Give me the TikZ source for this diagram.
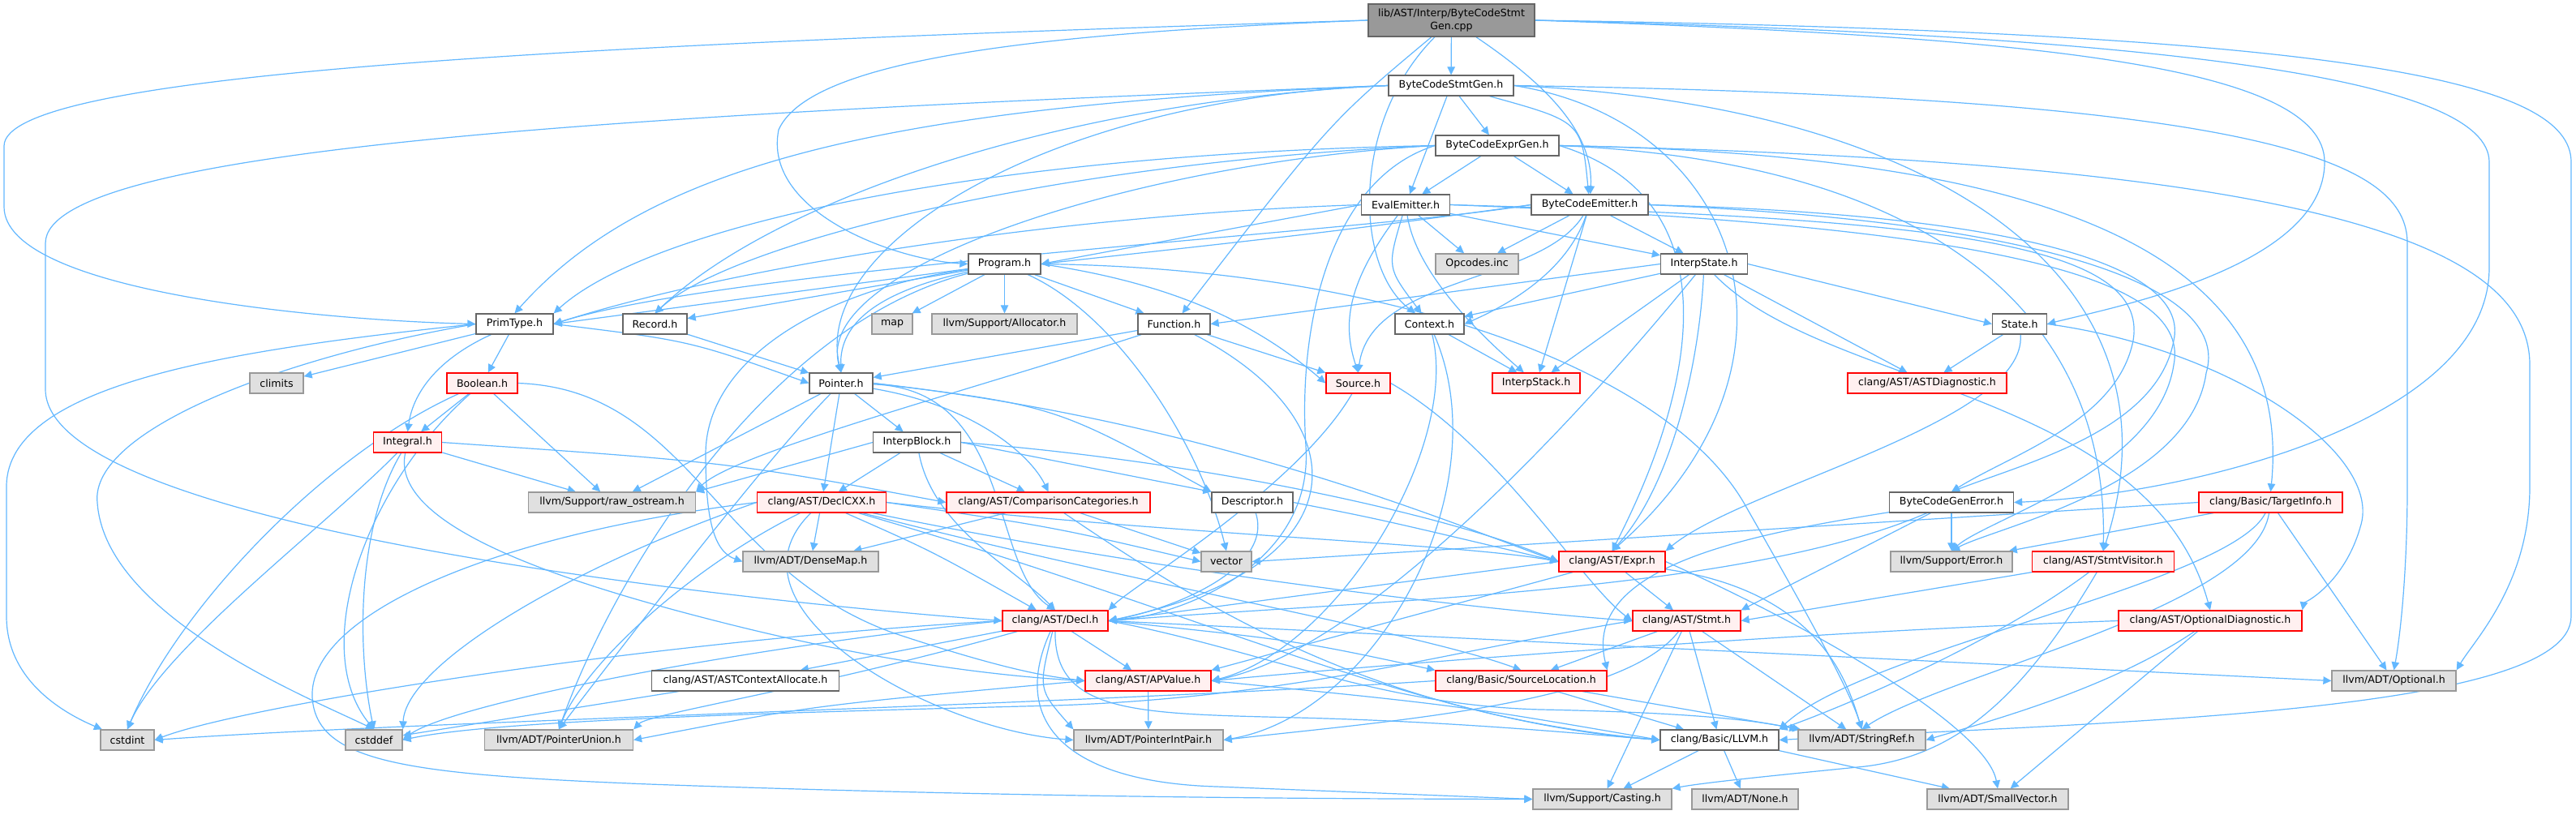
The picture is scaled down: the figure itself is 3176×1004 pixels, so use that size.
\documentclass[tikz,border=0pt]{standalone}
\usepackage{fontspec}
\setmainfont{DejaVu Sans}
\usetikzlibrary{arrows.meta}
\definecolor{ec}{HTML}{63B8FF}
\definecolor{bd}{HTML}{666666}
\definecolor{rootfill}{HTML}{999999}
\definecolor{rfill}{HTML}{FFF0F0}
\definecolor{rbd}{HTML}{FF0000}
\definecolor{gfill}{HTML}{E0E0E0}
\definecolor{gbd}{HTML}{999999}
\pgfdeclarelayer{bg}
\pgfsetlayers{bg,main}
\tikzset{
  box/.style={draw=bd, fill=white, line width=1.3pt, minimum height=25pt, inner sep=0pt, text=black},
  wbox/.style={box},
  rootbox/.style={box, fill=rootfill},
  rbox/.style={box, draw=rbd, fill=rfill},
  gbox/.style={box, draw=gbd, fill=gfill},
  e/.style={draw=ec, line width=1.2pt, -{Triangle[length=10pt,width=9.5pt]}},
}
\begin{document}
\begin{tikzpicture}[x=1pt, y=-1pt, font=\fontsize{12.6pt}{15.5pt}\selectfont]
\useasboundingbox (0,0) rectangle (3176,1004);
\node[rootbox, minimum width=205pt, minimum height=40pt, align=center] (root) at (1789.5,25) {lib/AST/Interp/ByteCodeStmt\\Gen.cpp};
\node[wbox, minimum width=154pt] (BCSG) at (1789,105.5) {ByteCodeStmtGen.h};
\node[wbox, minimum width=152pt] (BCEG) at (1846,179.5) {ByteCodeExprGen.h};
\node[wbox, minimum width=109pt] (EE) at (1733,252.5) {EvalEmitter.h};
\node[wbox, minimum width=144pt] (BCE) at (1960,252.5) {ByteCodeEmitter.h};
\node[wbox, minimum width=89pt] (Program) at (1238.5,325.5) {Program.h};
\node[gbox, minimum width=102pt] (Opcodes) at (1821,325.5) {Opcodes.inc};
\node[wbox, minimum width=107pt] (IS) at (2101,325.5) {InterpState.h};
\node[wbox, minimum width=95pt] (PrimType) at (634.5,399.5) {PrimType.h};
\node[wbox, minimum width=79pt] (Record) at (807.5,399.5) {Record.h};
\node[gbox, minimum width=50pt] (map) at (1100,399.5) {map};
\node[gbox, minimum width=179pt] (Allocator) at (1238.5,399.5) {llvm/Support/Allocator.h};
\node[wbox, minimum width=89pt] (Function) at (1447.5,399.5) {Function.h};
\node[wbox, minimum width=85pt] (Context) at (1762.5,399.5) {Context.h};
\node[wbox, minimum width=67pt] (State) at (2490,399.5) {State.h};
\node[gbox, minimum width=66pt] (climits) at (341,472.5) {climits};
\node[rbox, minimum width=87pt] (Boolean) at (594.5,472.5) {Boolean.h};
\node[wbox, minimum width=78pt] (Pointer) at (1037,472.5) {Pointer.h};
\node[rbox, minimum width=79pt] (Source) at (1674.5,472.5) {Source.h};
\node[rbox, minimum width=108pt] (InterpStack) at (1894,472.5) {InterpStack.h};
\node[rbox, minimum width=196pt] (ASTDiag) at (2376,472.5) {clang/AST/ASTDiagnostic.h};
\node[rbox, minimum width=84pt] (Integral) at (502.5,545.5) {Integral.h};
\node[wbox, minimum width=108pt] (InterpBlock) at (1130.5,545.5) {InterpBlock.h};
\node[gbox, minimum width=206pt] (rawostream) at (754.5,619.5) {llvm/Support/raw\_ostream.h};
\node[rbox, minimum width=159pt] (DeclCXX) at (1013,619.5) {clang/AST/DeclCXX.h};
\node[rbox, minimum width=251pt] (CompCat) at (1292.5,619.5) {clang/AST/ComparisonCategories.h};
\node[wbox, minimum width=100pt] (Descriptor) at (1544,619.5) {Descriptor.h};
\node[wbox, minimum width=153pt] (BCGE) at (2406,619.5) {ByteCodeGenError.h};
\node[rbox, minimum width=177pt] (TargetInfo) at (2799.5,619.5) {clang/Basic/TargetInfo.h};
\node[gbox, minimum width=167pt] (DenseMap) at (999.5,692.5) {llvm/ADT/DenseMap.h};
\node[gbox, minimum width=62pt] (vector) at (1512,692.5) {vector};
\node[rbox, minimum width=131pt] (Expr) at (1987.5,692.5) {clang/AST/Expr.h};
\node[gbox, minimum width=150pt] (Error) at (2406,692.5) {llvm/Support/Error.h};
\node[rbox, minimum width=175pt] (StmtVisitor) at (2593,692.5) {clang/AST/StmtVisitor.h};
\node[rbox, minimum width=130pt] (Decl) at (1301,765.5) {clang/AST/Decl.h};
\node[rbox, minimum width=133pt] (Stmt) at (2079.5,765.5) {clang/AST/Stmt.h};
\node[rbox, minimum width=226pt] (OptDiag) at (2725,765.5) {clang/AST/OptionalDiagnostic.h};
\node[wbox, minimum width=231pt] (ASTCtxAlloc) at (919,839.5) {clang/AST/ASTContextAllocate.h};
\node[rbox, minimum width=155pt] (APValue) at (1415.5,839.5) {clang/AST/APValue.h};
\node[rbox, minimum width=211pt] (SrcLoc) at (1875.5,839.5) {clang/Basic/SourceLocation.h};
\node[gbox, minimum width=153pt] (Optional) at (2951.5,839.5) {llvm/ADT/Optional.h};
\node[gbox, minimum width=66pt] (cstdint) at (157,912.5) {cstdint};
\node[gbox, minimum width=70pt] (cstddef) at (461,912.5) {cstddef};
\node[gbox, minimum width=183pt] (PointerUnion) at (689,912.5) {llvm/ADT/PointerUnion.h};
\node[gbox, minimum width=184pt] (PointerIntPair) at (1416,912.5) {llvm/ADT/PointerIntPair.h};
\node[wbox, minimum width=146pt] (LLVM) at (2120,912.5) {clang/Basic/LLVM.h};
\node[gbox, minimum width=157pt] (StringRef) at (2295.5,912.5) {llvm/ADT/StringRef.h};
\node[gbox, minimum width=171pt] (Casting) at (1975.5,985.5) {llvm/Support/Casting.h};
\node[gbox, minimum width=131pt] (None) at (2151.5,985.5) {llvm/ADT/None.h};
\node[gbox, minimum width=174pt] (SmallVector) at (2463,985.5) {llvm/ADT/SmallVector.h};
\begin{pgfonlayer}{bg}
\fill[white] (0,0) rectangle (3176,1004);
% root
\draw[e] (root) -- (BCSG);
\draw[e] (root) .. controls (1900,100) and (1965,160) .. (BCE);
\draw[e] (root) .. controls (1665,150) and (1670,330) .. (Context);
\draw[e] (root) .. controls (1640,150) .. (Function);
\draw[e] (root.west) .. controls (1300,40) and (1000,70) .. (960,160) .. controls (940,260) and (1100,320) .. (Program.west);
\draw[e] (root.west) .. controls (700,55) and (5,90) .. (5,180) -- (5,255) .. controls (5,360) and (400,395) .. (PrimType.west);
\draw[e] (root.east) .. controls (2500,45) and (2866,80) .. (2866,200) .. controls (2866,330) and (2600,380) .. (State.east);
\draw[e] (root.east) .. controls (2700,45) and (3069,100) .. (3069,200) -- (3069,330) .. controls (3069,520) and (2700,610) .. (BCGE.east);
\draw[e] (root.east) .. controls (2900,40) and (3170,100) .. (3170,200) -- (3170,760) .. controls (3170,880) and (2600,890) .. (LLVM.east);
% ByteCodeStmtGen.h
\draw[e] (BCSG) -- (BCEG);
\draw[e] (BCSG) -- (EE);
\draw[e] (BCSG) .. controls (1950,150) .. (BCE);
\draw[e] (BCSG.west) .. controls (1300,120) and (1000,300) .. (Pointer.north);
\draw[e] (BCSG.west) .. controls (1100,130) and (800,200) .. (PrimType.north);
\draw[e] (BCSG.west) .. controls (1300,125) and (950,250) .. (Record.north);
\draw[e] (BCSG.west) .. controls (800,140) and (56,180) .. (56,300) -- (56,480) .. controls (56,650) and (900,740) .. (Decl.west);
\draw[e] (BCSG.east) .. controls (2150,150) and (2250,450) .. (Expr.north);
\draw[e] (BCSG.east) .. controls (2400,130) and (2700,350) .. (StmtVisitor.north);
\draw[e] (BCSG.east) .. controls (2800,120) and (2968,200) .. (2968,300) -- (2968,600) .. controls (2968,700) and (2960,780) .. (Optional.north);
% ByteCodeExprGen.h
\draw[e] (BCEG) -- (EE);
\draw[e] (BCEG) -- (BCE);
\draw[e] (BCEG.west) .. controls (1400,200) and (1000,330) .. (Pointer.north);
\draw[e] (BCEG.west) .. controls (1200,190) and (800,280) .. (PrimType.north east);
\draw[e] (BCEG.west) .. controls (1300,200) and (900,300) .. (Record.north);
\draw[e] (BCEG.west) .. controls (1640,220) and (1600,400) .. (1610,550) .. controls (1620,700) and (1450,760) .. (Decl.east);
\draw[e] (BCEG.east) .. controls (2150,250) and (2080,500) .. (Expr.north);
\draw[e] (BCEG.east) .. controls (2400,200) and (2600,400) .. (StmtVisitor.north);
\draw[e] (BCEG.east) .. controls (2500,190) and (2830,300) .. (TargetInfo.north);
\draw[e] (BCEG.east) .. controls (2850,200) and (3119,300) .. (3119,450) -- (3119,600) .. controls (3119,720) and (3050,790) .. (Optional.north east);
% EvalEmitter.h
\draw[e] (EE) -- (Opcodes);
\draw[e] (EE) -- (IS);
\draw[e] (EE) .. controls (1710,330) .. (Context);
\draw[e] (EE) .. controls (1660,350) and (1655,400) .. (Source.north);
\draw[e] (EE) .. controls (1745,330) and (1810,400) .. (InterpStack);
\draw[e] (EE.west) .. controls (1300,265) and (900,330) .. (PrimType.east);
\draw[e] (EE.west) -- (Program.east);
\draw[e] (EE.east) .. controls (2400,270) and (2650,300) .. (2630,420) .. controls (2610,520) and (2480,560) .. (BCGE.north);
\draw[e] (EE.east) .. controls (2500,280) and (2700,350) .. (2680,450) .. controls (2660,580) and (2450,640) .. (Error.north);
% ByteCodeEmitter.h
\draw[e] (BCE) -- (Opcodes);
\draw[e] (BCE) -- (IS);
\draw[e] (BCE) .. controls (1930,340) and (1850,380) .. (Context.east);
\draw[e] (BCE) .. controls (1900,350) and (1690,340) .. (Source.north);
\draw[e] (BCE) -- (InterpStack);
\draw[e] (BCE.west) .. controls (1700,285) and (900,330) .. (PrimType.east);
\draw[e] (BCE.west) .. controls (1650,285) .. (Program.east);
\draw[e] (BCE.east) .. controls (2500,265) and (2700,330) .. (2680,420) .. controls (2660,530) and (2500,570) .. (BCGE.north);
\draw[e] (BCE.east) .. controls (2550,275) and (2750,360) .. (2720,460) .. controls (2700,600) and (2460,650) .. (Error.north);
% Program.h
\draw[e] (Program) -- (map);
\draw[e] (Program) -- (Allocator);
\draw[e] (Program) -- (Function);
\draw[e] (Program) -- (Record);
\draw[e] (Program) -- (PrimType.east);
\draw[e] (Program) .. controls (1080,360) and (1035,400) .. (Pointer.north);
\draw[e] (Program.east) .. controls (1450,350) and (1550,400) .. (Source.west);
\draw[e] (Program) .. controls (1380,390) and (1480,550) .. (vector.north);
\draw[e] (Program) .. controls (1000,360) and (870,450) .. (870,560) .. controls (870,640) and (880,680) .. (DenseMap.west);
\draw[e] (Program) .. controls (950,400) and (760,700) .. (PointerUnion.north);
\draw[e] (Program.east) .. controls (1700,330) and (2050,450) .. (2150,620) .. controls (2230,760) and (2280,850) .. (StringRef.north);
% InterpState.h
\draw[e] (IS) -- (Context);
\draw[e] (IS.west) -- (Function.east);
\draw[e] (IS) -- (InterpStack);
\draw[e] (IS.east) -- (State.west);
\draw[e] (IS) -- (ASTDiag);
\draw[e] (IS) .. controls (2095,450) and (2060,600) .. (Expr.north);
\draw[e] (IS) .. controls (2000,450) and (1700,800) .. (APValue.east);
\draw[e] (IS) .. controls (2250,480) and (2650,480) .. (OptDiag.north);
% PrimType.h
\draw[e] (PrimType) -- (climits);
\draw[e] (PrimType) -- (Boolean);
\draw[e] (PrimType) .. controls (545,440) and (510,480) .. (Integral.north);
\draw[e] (PrimType.east) .. controls (850,420) .. (Pointer.west);
\draw[e] (PrimType.west) .. controls (300,430) and (8,470) .. (8,600) -- (8,760) .. controls (8,840) and (80,880) .. (cstdint);
\draw[e] (PrimType.west) .. controls (350,440) and (110,530) .. (120,620) .. controls (130,760) and (380,860) .. (cstddef.north);
% Record.h
\draw[e] (Record) -- (Pointer);
% Function.h
\draw[e] (Function) -- (Pointer);
\draw[e] (Function) -- (Source);
\draw[e] (Function) .. controls (1680,520) and (1680,700) .. (Decl.east);
\draw[e] (Function) .. controls (1200,480) and (900,560) .. (rawostream.north east);
% Context.h
\draw[e] (Context) -- (InterpStack);
\draw[e] (Context) .. controls (1800,550) and (1650,800) .. (APValue.east);
\draw[e] (Context) .. controls (1850,600) and (1700,880) .. (PointerIntPair.east);
% State.h
\draw[e] (State) -- (ASTDiag);
\draw[e] (State) .. controls (2500,520) and (2150,600) .. (Expr.north east);
\draw[e] (State.east) .. controls (2750,430) and (2940,560) .. (2910,650) .. controls (2890,720) and (2840,745) .. (OptDiag.north east);
% Boolean.h
\draw[e] (Boolean) -- (Integral);
\draw[e] (Boolean) -- (rawostream);
\draw[e] (Boolean.east) .. controls (850,480) and (880,700) .. (1100,780) .. controls (1250,830) and (1300,835) .. (APValue.west);
\draw[e] (Boolean) .. controls (400,560) and (220,750) .. (cstdint.north);
\draw[e] (Boolean) .. controls (450,600) and (380,800) .. (cstddef.north);
% Pointer.h
\draw[e] (Pointer) -- (InterpBlock);
\draw[e] (Pointer) -- (DeclCXX);
\draw[e] (Pointer) .. controls (1200,500) and (1270,560) .. (CompCat.north);
\draw[e] (Pointer.east) .. controls (1300,500) .. (Descriptor.north west);
\draw[e] (Pointer) -- (rawostream);
\draw[e] (Pointer) .. controls (950,560) and (780,780) .. (PointerUnion.north);
\draw[e] (Pointer.east) .. controls (1500,520) and (1800,650) .. (Expr.west);
\draw[e] (Pointer) .. controls (1250,480) and (1220,700) .. (Decl.north);
% Source.h
\draw[e] (Source) .. controls (1600,600) and (1400,720) .. (Decl.north east);
\draw[e] (Source.east) .. controls (1850,550) and (1950,720) .. (Stmt.west);
% Integral.h
\draw[e] (Integral) -- (rawostream);
\draw[e] (Integral.east) .. controls (900,570) .. (CompCat.west);
\draw[e] (Integral) .. controls (480,650) and (700,720) .. (900,770) .. controls (1100,820) and (1250,835) .. (APValue.west);
\draw[e] (Integral) .. controls (400,650) and (200,800) .. (cstdint.north);
\draw[e] (Integral) .. controls (440,650) and (440,800) .. (cstddef.north);
% InterpBlock.h
\draw[e] (InterpBlock) -- (DeclCXX);
\draw[e] (InterpBlock) -- (CompCat);
\draw[e] (InterpBlock.east) -- (Descriptor.north west);
\draw[e] (InterpBlock.west) -- (rawostream.north east);
\draw[e] (InterpBlock) .. controls (1150,650) and (1250,700) .. (Decl.north);
\draw[e] (InterpBlock.east) .. controls (1500,570) and (1800,640) .. (Expr.west);
% Descriptor.h
\draw[e] (Descriptor) .. controls (1570,700) and (1450,750) .. (Decl.east);
\draw[e] (Descriptor.east) .. controls (1700,640) .. (Expr.west);
% DeclCXX.h
\draw[e] (DeclCXX) .. controls (1150,680) .. (Decl);
\draw[e] (DeclCXX.east) .. controls (1450,660) and (1800,670) .. (Expr.west);
\draw[e] (DeclCXX) .. controls (1400,700) and (1800,750) .. (Stmt.west);
\draw[e] (DeclCXX) -- (DenseMap);
\draw[e] (DeclCXX.east) .. controls (1300,650) .. (vector.west);
\draw[e] (DeclCXX) .. controls (1400,720) and (1750,780) .. (SrcLoc.north);
\draw[e] (DeclCXX) .. controls (1500,760) and (1750,890) .. (LLVM.west);
\draw[e] (DeclCXX) .. controls (880,750) and (1150,900) .. (PointerIntPair.west);
\draw[e] (DeclCXX) .. controls (850,700) and (720,820) .. (PointerUnion.north);
\draw[e] (DeclCXX.west) .. controls (600,660) and (380,760) .. (385,860) .. controls (390,940) and (500,955) .. (800,967) .. controls (1300,985) and (1700,985) .. (Casting.west);
\draw[e] (DeclCXX.west) .. controls (700,700) and (500,820) .. (cstddef.north east);
% ComparisonCategories.h
\draw[e] (CompCat) -- (DenseMap);
\draw[e] (CompCat) -- (vector);
\draw[e] (CompCat) .. controls (1500,760) and (1700,880) .. (LLVM.west);
% TargetInfo.h
\draw[e] (TargetInfo) -- (Error);
\draw[e] (TargetInfo.west) -- (vector.east);
\draw[e] (TargetInfo) -- (Optional);
\draw[e] (TargetInfo) .. controls (2750,720) and (2300,800) .. (LLVM.north east);
\draw[e] (TargetInfo) .. controls (2780,750) and (2400,830) .. (StringRef.north);
% ByteCodeGenError.h
\draw[e] (BCGE) -- (Error);
\draw[e] (BCGE) -- (Stmt.north east);
\draw[e] (BCGE) .. controls (2150,660) and (1950,700) .. (SrcLoc.north east);
\draw[e] (BCGE) .. controls (2150,730) and (1700,740) .. (Decl.east);
% Expr.h
\draw[e] (Expr) -- (Stmt);
\draw[e] (Expr.west) -- (Decl.east);
\draw[e] (Expr) -- (APValue.north east);
\draw[e] (Expr) .. controls (2250,730) and (2280,850) .. (StringRef.north);
\draw[e] (Expr.east) .. controls (2250,780) and (2450,900) .. (SmallVector.north);
% StmtVisitor.h
\draw[e] (StmtVisitor.south west) -- (Stmt.east);
\draw[e] (StmtVisitor) .. controls (2450,800) and (2250,880) .. (LLVM.north east);
\draw[e] (StmtVisitor) .. controls (2500,850) and (2420,930) .. (2300,945) .. controls (2200,955) and (2100,965) .. (Casting.north east);
% Decl.h
\draw[e] (Decl) -- (APValue);
\draw[e] (Decl) -- (ASTCtxAlloc);
\draw[e] (Decl) .. controls (1280,850) .. (PointerIntPair.north west);
\draw[e] (Decl.east) .. controls (1600,790) .. (SrcLoc.north west);
\draw[e] (Decl) .. controls (1300,880) and (1400,880) .. (1600,885) .. controls (1800,890) and (1950,905) .. (LLVM.west);
\draw[e] (Decl.east) -- (Optional.west);
\draw[e] (Decl) .. controls (1000,850) and (800,880) .. (PointerUnion.north east);
\draw[e] (Decl.east) .. controls (1550,800) and (1700,870) .. (1900,875) .. controls (2050,878) and (2150,885) .. (StringRef.north west);
\draw[e] (Decl) .. controls (1240,900) and (1330,965) .. (1500,970) -- (Casting.west);
\draw[e] (Decl.west) .. controls (900,800) and (550,870) .. (cstddef.east);
\draw[e] (Decl.west) .. controls (800,790) and (300,870) .. (cstdint.east);
% Stmt.h
\draw[e] (Stmt) -- (SrcLoc);
\draw[e] (Stmt) -- (LLVM);
\draw[e] (Stmt) -- (StringRef);
\draw[e] (Stmt) -- (Casting);
\draw[e] (Stmt) .. controls (2000,870) and (1700,890) .. (PointerIntPair.east);
\draw[e] (Stmt.west) .. controls (1800,800) and (1600,860) .. (1300,870) .. controls (900,880) and (600,890) .. (cstddef.east);
% APValue.h
\draw[e] (APValue) -- (PointerIntPair);
\draw[e] (APValue.east) .. controls (1800,870) .. (LLVM.west);
\draw[e] (APValue.west) .. controls (1000,870) .. (PointerUnion.east);
% SourceLocation.h
\draw[e] (SrcLoc) -- (LLVM);
\draw[e] (SrcLoc) -- (StringRef);
\draw[e] (SrcLoc.west) .. controls (1300,870) and (500,890) .. (cstdint.east);
% ASTContextAllocate.h
\draw[e] (ASTCtxAlloc) -- (cstddef);
% LLVM.h
\draw[e] (LLVM) -- (Casting);
\draw[e] (LLVM) -- (None);
\draw[e] (LLVM.south east) -- (SmallVector);
% OptionalDiagnostic.h
\draw[e] (OptDiag.west) .. controls (2200,780) and (1700,820) .. (APValue.east);
\draw[e] (OptDiag) .. controls (2600,850) and (2450,890) .. (StringRef.east);
\draw[e] (OptDiag) -- (SmallVector);
\end{pgfonlayer}
\end{tikzpicture}
\end{document}
